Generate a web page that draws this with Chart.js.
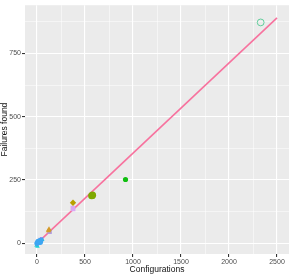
<!DOCTYPE html>
<html lang="en">
<head>
    <meta charset="UTF-8">
    <title>Failures vs configurations</title>
    <script src="https://cdn.jsdelivr.net/npm/chart.js"></script>
    <style>
        body { margin: 0; padding: 0; background: #fff; }
        #wrap { width: 295px; height: 275px; }
    </style>
</head>
<body>
    <div id="wrap"><canvas id="scatterChart" width="295" height="275"></canvas></div>

    <script>
        // data
        const groupNames = ['g1', 'g2', 'g3', 'g4', 'g5', 'g6', 'g7', 'g8', 'g9', 'g10'];
        const groupConfigs = [
            [2330],
            [922],
            [578, 570],
            [375],
            [372, 378],
            [125, 120],
            [132],
            [0, 5, 10, 15, 20, 25, 30, 40, 12, 35],
            [-5, 5, 55],
            [35, 50, 45]
        ];
        const groupFailures = [
            [872],
            [252],
            [190, 188],
            [160],
            [140, 135],
            [55, 50],
            [45],
            [0, 2, 5, 3, 8, 6, 10, 12, 8, 4],
            [-8, -12, 14],
            [15, 18, 12]
        ];
        const fitConfigs = [0, 2500];
        const fitFailures = [0, 890];

        const xTicks = [0, 250, 500, 750, 1000, 1250, 1500, 1750, 2000, 2250, 2500];
        const yTicks = [0, 125, 250, 375, 500, 625, 750, 875];
        const xLabeled = [0, 500, 1000, 1500, 2000, 2500];
        const yLabeled = [0, 250, 500, 750];

        // styles
        const colors = ['#62CE9C', '#10BE10', '#7FA800', '#B8A000', '#D9A8F4', '#D49A2A', '#B09CE0', '#3EA6F2', '#20CFD6', '#9A8CF0'];
        const shapes = ['circle', 'circle', 'circle', 'rectRot', 'rect', 'triangle', 'rect', 'circle', 'triangle', 'rect'];
        const radii = [3.4, 2.6, 3.6, 3.2, 3, 3.2, 3, 2.6, 2.6, 2.5];
        const hollow = [true, false, false, false, false, false, false, false, false, false];

        const datasets = groupNames.map((name, i) => ({
            label: name,
            data: groupConfigs[i].map((x, j) => ({ x: x, y: groupFailures[i][j] })),
            pointStyle: shapes[i],
            pointRadius: radii[i],
            pointBorderWidth: hollow[i] ? 1 : 0,
            borderColor: colors[i],
            backgroundColor: hollow[i] ? 'rgba(0,0,0,0)' : colors[i]
        }));

        datasets.push({
            type: 'line',
            label: 'fit',
            data: fitConfigs.map((x, j) => ({ x: x, y: fitFailures[j] })),
            borderColor: '#F7729E',
            borderWidth: 1.6,
            pointRadius: 0,
            fill: false
        });

        const panelBg = {
            id: 'panelBg',
            beforeDraw(chart) {
                const a = chart.chartArea;
                const ctx = chart.ctx;
                ctx.save();
                ctx.fillStyle = '#EBEBEB';
                ctx.fillRect(a.left, a.top, a.right - a.left, a.bottom - a.top);
                ctx.restore();
            }
        };

        const tickFont = { family: 'Liberation Sans', size: 7 };
        const titleFont = { family: 'Liberation Sans', size: 8.5 };

        new Chart(document.getElementById('scatterChart').getContext('2d'), {
            type: 'scatter',
            data: { datasets: datasets },
            plugins: [panelBg],
            options: {
                responsive: false,
                maintainAspectRatio: false,
                animation: false,
                layout: { padding: { top: 3, right: 6, left: 0, bottom: 0 } },
                plugins: { legend: { display: false }, tooltip: { enabled: false } },
                scales: {
                    x: {
                        min: -125,
                        max: 2625,
                        afterBuildTicks: s => { s.ticks = xTicks.map(v => ({ value: v })); },
                        afterFit: s => { s.height = 21; },
                        border: { display: false },
                        grid: {
                            color: '#FFFFFF',
                            lineWidth: c => xLabeled.includes(c.tick.value) ? 1.1 : 0.5,
                            tickLength: 3,
                            tickColor: c => xLabeled.includes(c.tick.value) ? '#333333' : 'rgba(0,0,0,0)'
                        },
                        ticks: {
                            color: '#4D4D4D',
                            font: tickFont,
                            padding: 1,
                            maxRotation: 0,
                            autoSkip: false,
                            callback: v => xLabeled.includes(v) ? String(v) : ''
                        },
                        title: { display: true, text: 'Configurations', color: '#111', font: titleFont, padding: { top: 0, bottom: 0 } }
                    },
                    y: {
                        min: -42,
                        max: 940,
                        afterBuildTicks: s => { s.ticks = yTicks.map(v => ({ value: v })); },
                        afterFit: s => { s.width = 25; },
                        border: { display: false },
                        grid: {
                            color: '#FFFFFF',
                            lineWidth: c => yLabeled.includes(c.tick.value) ? 1.1 : 0.5,
                            tickLength: 3,
                            tickColor: c => yLabeled.includes(c.tick.value) ? '#333333' : 'rgba(0,0,0,0)'
                        },
                        ticks: {
                            color: '#4D4D4D',
                            font: tickFont,
                            padding: 1,
                            autoSkip: false,
                            callback: v => yLabeled.includes(v) ? String(v) : ''
                        },
                        title: { display: true, text: 'Failures found', color: '#111', font: titleFont, padding: { top: 0, bottom: 0 } }
                    }
                }
            }
        });
    </script>
</body>
</html>
